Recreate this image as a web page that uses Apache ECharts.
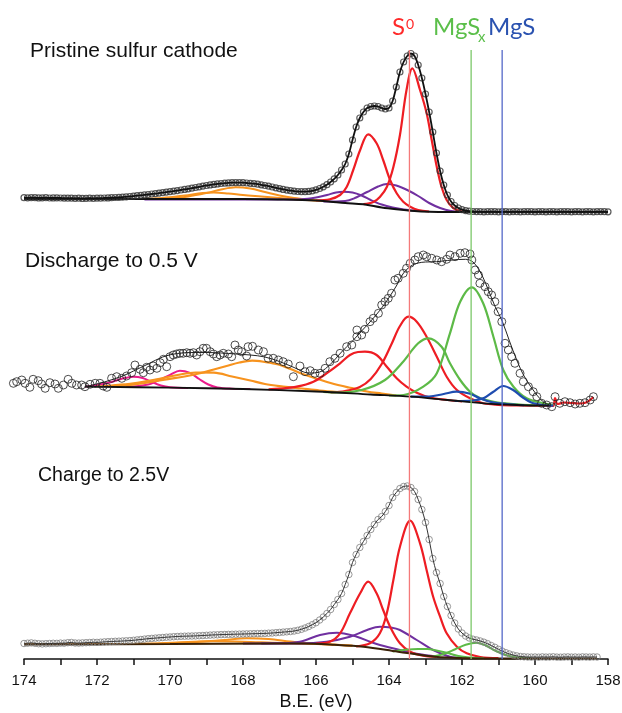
<!DOCTYPE html>
<html>
<head>
<meta charset="utf-8">
<title>S 2p spectra</title>
<script src="https://cdn.jsdelivr.net/npm/echarts@6/dist/echarts.min.js"></script>
<style>
  html, body { margin: 0; padding: 0; background: #fff; }
  #chart { width: 622px; height: 713px; }
</style>
</head>
<body>
<div id="chart"></div>
<script>
  // ---- data (binding energy in eV, intensity in arbitrary units) ----

  // measured points, pristine cathode: 174.0 eV downwards, every 0.1 eV
  const pristineCounts = [
    14.3, 14.2, 14.4, 14.3, 14.1, 14.2, 14.3, 14.0, 14.1, 14.2,
    14.0, 13.9, 13.8, 13.9, 13.7, 13.8, 13.6, 13.7, 13.8, 13.7,
    13.9, 13.8, 14.0, 14.1,
    14.3, 14.5, 14.7, 14.9, 15.2, 15.5, 15.9, 16.3, 16.7, 17.1,
    17.5, 18.0, 18.4, 18.9, 19.4, 19.9, 20.4, 20.9, 21.4, 22.0,
    22.6, 23.2, 23.8, 24.5, 25.2, 25.9, 26.5, 27.1, 27.6, 28.1,
    28.5, 28.8, 29.1, 29.3, 29.4, 29.4, 29.3, 29.0, 28.7, 28.3,
    27.8, 27.2, 26.5, 25.8, 25.0, 24.2, 23.4, 22.6, 21.9, 21.3,
    20.8, 20.5, 20.3, 20.3, 20.6, 21.2, 22.2, 23.5, 25.2, 27.3,
    30.0, 33.2, 37.0, 42, 48, 58, 72, 85, 94, 100,
    104, 105.5, 106, 105.5, 104, 103, 104, 111, 125, 140,
    150, 156, 158.5, 156, 147, 134, 118, 100, 80, 59,
    41, 27, 17, 10.5, 6.5, 4, 2.3, 1.4, 0.8, 0.5,
    0.4, 0.3, 0.2, 0.3, 0.4, 0.3, 0.2, 0.3, 0.3, 0.2,
    0.4, 0.3, 0.2, 0.3, 0.4, 0.3, 0.2, 0.3, 0.3, 0.2,
    0.4, 0.3, 0.2, 0.3, 0.4, 0.3, 0.2, 0.3, 0.3, 0.2,
    0.4, 0.3, 0.2, 0.3, 0.4, 0.3, 0.2
  ];
  const pristineBackground = [[174, 13], [168, 13], [167, 12.5], [166, 11.5], [165.6, 10.3], [165.2, 9], [164.7, 7.7], [164.2, 4.5], [163.8, 2.7], [163.3, 1], [162.9, 0.3], [162.4, 0], [158, 0]];
  const pristineOrangeA = [[170.8, 13], [170.0, 13.5], [169.5, 15.5], [169.0, 19], [168.6, 22.5], [168.2, 24.7], [167.8, 23.5], [167.4, 20], [167.0, 16.5], [166.6, 14], [166.2, 12.3], [165.8, 11]];
  const pristineOrangeB = [[170.8, 13], [170.2, 14], [169.6, 16.5], [169.1, 19], [168.8, 19.5], [168.4, 18.5], [168.0, 17], [167.5, 15.5], [167.0, 14], [166.5, 12.5], [166.0, 11.5]];
  const pristinePurple1 = [[170.7, 12.6], [167.0, 12.5], [166.4, 12.8], [166.0, 14.5], [165.7, 17], [165.45, 19.5], [165.25, 20.3], [165.0, 19.5], [164.75, 16.5], [164.5, 12], [164.2, 7.5], [163.9, 4.5], [163.6, 2.5], [163.2, 1]];
  const pristinePurple2 = [[165.8, 10.5], [165.2, 11], [164.9, 14.5], [164.6, 20], [164.3, 25.5], [164.06, 28], [163.8, 26.5], [163.5, 22], [163.2, 16], [162.9, 9], [162.6, 4], [162.3, 1], [162, 0]];
  const pristineRed1 = [[166.0, 11.5], [165.62, 12.7], [165.34, 17], [165.16, 25], [164.98, 42], [164.79, 62], [164.57, 77.7], [164.34, 68.7], [164.16, 52], [163.97, 32], [163.79, 18.7], [163.61, 10.3], [163.42, 5.3], [163.2, 2], [162.9, 0.5]];
  const pristineRed2 = [[164.7, 7.8], [164.43, 10], [164.25, 15], [164.06, 25], [163.88, 45], [163.7, 77], [163.52, 122], [163.36, 143.7], [163.15, 122], [162.97, 99], [162.83, 72], [162.69, 45], [162.56, 25], [162.42, 12], [162.24, 4], [162, 0.5], [161.7, 0]];

  // measured points after discharge to 0.5 V, [eV, intensity]
  const dischargePoints = [
    [174.29, 22.7], [174.2, 24.3], [174.06, 26], [173.97, 22.7], [173.84, 18.7], [173.75, 26.7], [173.61, 25.3], [173.52, 22],
    [173.42, 17.7], [173.29, 23.3], [173.15, 22], [173.06, 17.7], [172.92, 21], [172.79, 26.7], [172.69, 22.7], [172.56, 21],
    [172.42, 21], [172.33, 19.3], [172.19, 21.7], [172.05, 22.7], [171.92, 22.7], [171.83, 20], [171.73, 18.7], [171.6, 27.7],
    [171.46, 29.3], [171.32, 27.7], [171.19, 30], [171.05, 33.3], [170.96, 41], [170.82, 36.7], [170.73, 33.3], [170.64, 38.7],
    [170.55, 36], [170.46, 40], [170.36, 37.7], [170.27, 43.3], [170.18, 46.7], [170.09, 39.3], [170.0, 49.3], [169.91, 51],
    [169.82, 52], [169.73, 52.7], [169.64, 52.7], [169.54, 53.3], [169.45, 52.7], [169.36, 53.3], [169.27, 51], [169.18, 54.3],
    [169.09, 57.7], [169.0, 57.7], [168.9, 54.3], [168.81, 52], [168.72, 49.3], [168.63, 51], [168.54, 52.7], [168.4, 52],
    [168.31, 49.3], [168.22, 61], [168.13, 56], [168.04, 54.3], [167.9, 50], [167.86, 59.3], [167.74, 59.7], [167.58, 56],
    [167.44, 54.3], [167.31, 47.7], [167.17, 47.7], [167.03, 46], [166.9, 44.3], [166.76, 42], [166.62, 29.3], [166.44, 40],
    [166.3, 34.3], [166.16, 35.3], [166.03, 32.7], [165.89, 32.7], [165.75, 37.7], [165.62, 44.3], [165.48, 47.7], [165.34, 52.7],
    [165.16, 59.3], [165.02, 61], [164.88, 69.3], [164.88, 76], [164.75, 71], [164.66, 76.7], [164.52, 84.3], [164.43, 87.7],
    [164.29, 92.7], [164.2, 101], [164.11, 104.3], [164.02, 107.7], [163.93, 112.7], [163.84, 126], [163.75, 127.7], [163.61, 132.7],
    [163.52, 137.7], [163.42, 142.7], [163.29, 146], [163.2, 149.3], [163.06, 151], [162.97, 149.3], [162.83, 147.7], [162.69, 146],
    [162.56, 144.3], [162.42, 146.7], [162.33, 151], [162.19, 149.3], [162.05, 152.7], [161.92, 153.3], [161.78, 152], [161.73, 146],
    [161.64, 136], [161.55, 131], [161.51, 122.7], [161.37, 119.3], [161.28, 114.3], [161.19, 111], [161.1, 104.3], [161.01, 94.3],
    [160.91, 84.3], [160.82, 62.7], [160.73, 56], [160.64, 49.3], [160.55, 42.7], [160.41, 32.7], [160.32, 24.3], [160.18, 19.3],
    [160.05, 14.3], [159.95, 9.3], [159.82, 2.7], [159.68, 1], [159.54, -0.7], [159.45, 9.3], [159.32, 2.7], [159.18, 4.3],
    [159.04, 3.3], [158.9, 2], [158.77, 2.7], [158.63, 3.3], [158.49, 6], [158.4, 9.3]
  ];
  const dischargeFit = [[172.33, 19.3], [171.8, 24], [171.3, 30], [171.0, 35], [170.6, 42], [170.2, 49], [169.8, 52.5], [169.4, 53.5], [169.0, 53.5], [168.6, 53], [168.2, 52], [167.8, 51], [167.4, 49], [167.0, 44.5], [166.6, 38.5], [166.2, 33], [165.9, 34], [165.6, 42], [165.3, 54], [165.0, 65], [164.7, 77], [164.4, 89], [164.1, 103], [163.8, 120], [163.6, 133], [163.4, 140], [163.2, 143], [163.0, 144], [162.7, 144.3], [162.4, 145.5], [162.1, 146.5], [161.9, 146.7], [161.7, 144], [161.5, 134], [161.3, 118], [161.1, 100], [160.9, 85], [160.7, 65], [160.5, 46], [160.3, 30], [160.05, 16], [159.8, 5], [159.6, 1]];
  const dischargeBackground = [[172.33, 19.3], [170, 18.3], [168, 17], [166, 14.5], [164.5, 11.5], [163.4, 9.3], [162.4, 6], [161.4, 2.7], [160.5, 1], [159.6, 0.3]];
  const dischargePink1 = [[172.33, 19.3], [172.0, 21], [171.6, 24], [171.3, 27.5], [171.0, 29.3], [170.75, 28], [170.5, 24], [170.25, 20.5], [170.0, 18.8], [169.5, 18]];
  const dischargePink2 = [[171.2, 19], [170.6, 21.5], [170.3, 26], [170.0, 31], [169.73, 35.3], [169.45, 33], [169.2, 27], [168.95, 21.5], [168.7, 18.5], [168.3, 17.3], [167.8, 17]];
  const dischargeOrangeA = [[171.6, 19.5], [171.2, 20.5], [170.6, 23.5], [170.1, 26.7], [169.6, 29.5], [169.18, 32.7], [168.8, 36.5], [168.45, 40], [168.1, 43.5], [167.75, 45.3], [167.4, 44], [167.03, 41.5], [166.7, 37], [166.4, 32.5], [166.0, 27.5], [165.6, 23], [165.1, 18.5], [164.6, 14.5], [164.2, 12.5], [163.8, 10.5]];
  const dischargeOrangeB = [[172.0, 19.5], [171.6, 20.5], [171.0, 22.7], [170.4, 26.5], [169.8, 31], [169.3, 33.5], [168.8, 33.3], [168.3, 29.5], [167.8, 25.5], [167.4, 22], [166.9, 19.5], [166.4, 17.5], [165.9, 15.5], [165.4, 14]];
  const dischargeRed1 = [[167.3, 16.6], [167.0, 17.3], [166.53, 19.3], [166.07, 24.3], [165.71, 32.7], [165.34, 42.7], [165.07, 51], [164.85, 54], [164.66, 54.3], [164.34, 51], [164.06, 39.3], [163.79, 27.7], [163.52, 19.3], [163.24, 13.3], [162.88, 8.5], [162.4, 6], [162, 4.5]];
  const dischargeRed2 = [[165.6, 13.5], [165.2, 15], [164.8, 19], [164.5, 27], [164.2, 42], [163.93, 62], [163.7, 80], [163.47, 89.3], [163.24, 84.3], [162.97, 69.3], [162.69, 49.3], [162.42, 29.3], [162.14, 16], [161.78, 7.7], [161.42, 2.7], [161, 1.2], [160.5, 0.6], [159.6, 0.3], [159.5, 0], [159.45, 8], [159.38, 2], [159.2, 3.5], [159.0, 3], [158.8, 2.5], [158.6, 3.5], [158.4, 9]];
  const dischargeGreen1 = [[165.8, 14], [165.4, 13.5], [164.75, 16], [164.11, 26], [163.65, 42.7], [163.2, 62.7], [162.92, 67.7], [162.56, 59.3], [162.33, 42.7], [162.05, 26], [161.78, 14.3], [161.51, 8], [161.1, 4], [160.6, 2], [160, 0.7]];
  const dischargeGreen2 = [[164.0, 10.5], [163.6, 11], [163.06, 19.3], [162.69, 32.7], [162.33, 72.7], [162.05, 104.3], [161.73, 118.7], [161.42, 102.7], [161.14, 69.3], [160.87, 36], [160.59, 19.3], [160.23, 7.7], [159.77, 2.7], [159.5, 1]];
  const dischargeBlue1 = [[163.4, 9.3], [162.9, 9.5], [162.5, 12], [162.15, 14.3], [161.8, 12.5], [161.5, 7.5], [161.2, 4], [160.8, 2], [160.3, 0.8]];
  const dischargeBlue2 = [[162.2, 5], [161.7, 5.5], [161.4, 8], [161.15, 14], [160.87, 20], [160.6, 16], [160.35, 9], [160.1, 3.5], [159.8, 1], [159.5, 0.3]];

  // measured points after charge to 2.5 V: 174.0 eV downwards, every 0.1 eV
  const chargeCounts = [
    15.0, 15.3, 15.6, 15.2, 14.8, 14.6, 14.8, 15.0, 15.2, 15.1,
    15.4, 15.3, 15.8, 16.0, 15.5, 15.4, 15.6, 15.8, 16.0, 16.2,
    16.1, 16.3, 16.6, 16.8, 17.0, 17.2, 17.3, 17.5, 17.7, 17.9,
    18.2, 18.6, 19.0, 19.4, 19.8, 20.1, 20.4, 20.7, 21.0, 21.3,
    21.5, 21.8, 22.0, 22.2, 22.3, 22.4, 22.5, 22.6, 22.8, 23.0,
    23.2, 23.4, 23.6, 23.7, 23.9, 24.0, 24.1, 24.2, 24.3, 24.4,
    24.5, 24.6, 24.7, 24.8, 24.9, 25.0, 25.1, 25.3, 25.5, 25.8,
    26.1, 26.4, 26.7, 27.0, 27.5, 28.2, 29.2, 30.5, 32.0, 33.8,
    35.8, 38.5, 41.5, 45, 49, 54, 59, 65, 74, 84,
    96, 104, 111, 117, 123, 129, 134, 139, 142, 147,
    153, 161, 166, 170, 172, 172.5, 171, 167, 159, 149,
    136, 119, 100, 86, 75, 62, 52, 43, 35.5, 29.5,
    25.5, 22.5, 20.5, 19.3, 18.5, 17.5, 16.3, 14.8, 13, 11.2,
    9.2, 7.4, 5.8, 4.5, 3.4, 2.6, 2.0, 1.7, 1.5, 1.4,
    1.5, 1.3, 1.6, 1.4, 1.5, 1.7, 1.4, 1.3, 1.5, 1.6,
    1.4, 1.5, 1.3, 1.6, 1.5, 1.4, 1.6, 1.5
  ];
  const chargeBackground = [[174, 14], [170, 14.5], [167, 15], [166.4, 15], [165.5, 13.8], [164.7, 11.8], [163.75, 6.8], [162.8, 2], [161.9, 0.3], [160.5, 0], [158.3, 0]];
  const chargeOrangeA = [[174, 14.5], [172, 14.5], [170.6, 14.6], [169.5, 16], [168.5, 18.5], [167.9, 20.2], [167.3, 19.5], [166.7, 17], [166.1, 15], [165.5, 13.8], [165, 12.8]];
  const chargeOrangeB = [[172, 14.4], [171.5, 14.5], [170.5, 15], [169.5, 16.5], [168.8, 17.2], [168, 16.8], [167.2, 15.8], [166.5, 15], [165.8, 14.3], [165, 12.8]];
  const chargePurple1 = [[168.0, 15], [167.0, 15.2], [166.44, 16.8], [165.89, 23.5], [165.43, 25.8], [164.88, 21.8], [164.5, 16.5], [164.25, 13.5], [163.7, 8.5], [163.2, 4.5], [162.7, 2]];
  const chargePurple2 = [[167.5, 15], [166.44, 15], [165.71, 16.8], [165.07, 21.8], [164.6, 28.5], [164.25, 31.8], [163.95, 31], [163.7, 28.5], [163.24, 18.5], [162.79, 8.5], [162.33, 1.8], [162, 0.5]];
  const chargeRed1 = [[166.0, 15], [165.62, 16.8], [165.34, 25.2], [165.07, 45.2], [164.79, 65.2], [164.57, 76.8], [164.34, 65.2], [164.16, 48.5], [163.97, 31.8], [163.7, 15.2], [163.42, 6.8], [163.1, 3], [162.7, 1.5]];
  const chargeRed2 = [[164.9, 12], [164.52, 15.2], [164.25, 25.2], [164.06, 45.2], [163.88, 78.5], [163.7, 111.8], [163.42, 137.8], [163.15, 115.2], [162.97, 88.5], [162.79, 61.8], [162.6, 41.8], [162.42, 25.2], [162.14, 11.8], [161.87, 5.2], [161.5, 1.5], [161, 0.3]];
  const chargeGreen1 = [[163.9, 7], [163.6, 8.5], [163.2, 9.5], [162.95, 9.5], [162.7, 8], [162.42, 5.8], [162.1, 2.5], [161.8, 1], [161.4, 0.3]];
  const chargeGreen2 = [[162.8, 2], [162.5, 4.5], [162.2, 9], [161.9, 13.8], [161.6, 15.8], [161.35, 13], [161.1, 8], [160.8, 3.5], [160.5, 1], [160.1, 0.3]];

  // vertical offset of each spectrum in the stack
  const pristineOffset = 447;
  const dischargeOffset = 253;
  const chargeOffset = 0.5;

  // reference binding energies
  const refEnergies = [163.44, 161.75, 160.9];
  const refTop = 609;

  const panelTitles = ["Pristine sulfur cathode", "Discharge to 0.5 V", "Charge to 2.5V"];

  // ---- chart ----
  const RED = "#ee1d23";
  const ORANGE = "#f7931e";
  const PURPLE = "#7030a0";
  const GREEN = "#5dba47";
  const BLUE = "#1f4db0";
  const PINK = "#ec1c8c";

  function evenGrid(values, start, step) {
    return values.map((v, i) => [+(start - i * step).toFixed(2), v]);
  }

  function shift(points, offset) {
    return points.map((p) => [p[0], p[1] + offset]);
  }

  function curve(points, offset, color, width, z) {
    return {
      type: "line",
      data: shift(points, offset),
      smooth: 0.35,
      showSymbol: false,
      silent: true,
      z: z || 2,
      lineStyle: { color: color, width: width },
    };
  }

  function dots(points, offset, size, border, borderWidth) {
    return {
      type: "scatter",
      data: shift(points, offset),
      symbol: "circle",
      symbolSize: size,
      silent: true,
      clip: false,
      z: 4,
      itemStyle: { color: "rgba(255,255,255,0)", borderColor: border, borderWidth: borderWidth },
    };
  }

  const pristine = evenGrid(pristineCounts, 174, 0.1);
  const charge = evenGrid(chargeCounts, 174, 0.1);

  const series = [
    // pristine
    curve(pristineOrangeA, pristineOffset, ORANGE, 2),
    curve(pristineOrangeB, pristineOffset, ORANGE, 2),
    curve(pristinePurple1, pristineOffset, PURPLE, 2),
    curve(pristinePurple2, pristineOffset, PURPLE, 2),
    curve(pristineRed1, pristineOffset, RED, 2.2),
    curve(pristineRed2, pristineOffset, RED, 2.2),
    curve(pristineBackground, pristineOffset, "#111", 2, 3),
    dots(pristine, pristineOffset, 6, "#333", 1.2),
    curve(pristine, pristineOffset, "#111", 1.8, 5),
    // discharge
    curve(dischargePink1, dischargeOffset, PINK, 2),
    curve(dischargePink2, dischargeOffset, PINK, 2),
    curve(dischargeOrangeA, dischargeOffset, ORANGE, 2.2),
    curve(dischargeOrangeB, dischargeOffset, ORANGE, 2.2),
    curve(dischargeBackground, dischargeOffset, "#111", 1.8, 3),
    curve(dischargeRed1, dischargeOffset, RED, 2.2),
    curve(dischargeRed2, dischargeOffset, RED, 2.2),
    curve(dischargeGreen1, dischargeOffset, GREEN, 2.2),
    curve(dischargeGreen2, dischargeOffset, GREEN, 2.2),
    curve(dischargeBlue1, dischargeOffset, BLUE, 2.2),
    curve(dischargeBlue2, dischargeOffset, BLUE, 2.2),
    curve(dischargeFit, dischargeOffset, "#222", 1, 5),
    dots(dischargePoints, dischargeOffset, 8, "#222", 1),
    // charge
    curve(chargeOrangeA, chargeOffset, ORANGE, 2),
    curve(chargeOrangeB, chargeOffset, ORANGE, 2),
    curve(chargeBackground, chargeOffset, "#3a2208", 2, 3),
    curve(chargePurple1, chargeOffset, PURPLE, 2),
    curve(chargePurple2, chargeOffset, PURPLE, 2),
    curve(chargeRed1, chargeOffset, RED, 2.2),
    curve(chargeRed2, chargeOffset, RED, 2.2),
    curve(chargeGreen1, chargeOffset, GREEN, 2),
    curve(chargeGreen2, chargeOffset, GREEN, 2),
    dots(charge, chargeOffset, 6.5, "#808080", 1),
    curve(charge, chargeOffset, "#333", 1, 5),
  ];

  const refColors = ["#f47a7a", "#7cc86a", "#5468c8"];
  refEnergies.forEach((be, i) => {
    series.push({
      type: "line",
      data: [[be, 0], [be, refTop]],
      showSymbol: false,
      silent: true,
      z: 6,
      lineStyle: { color: refColors[i], width: 1.3 },
    });
  });

  const labelFont = '"Liberation Sans", Arial, sans-serif';
  const tagFont = 'Lato, "Open Sans", sans-serif';

  const chart = echarts.init(document.getElementById("chart"), null, { renderer: "canvas" });
  chart.setOption({
    animation: false,
    backgroundColor: "#fff",
    grid: { left: 24, right: 14, top: 40, bottom: 54, outerBoundsMode: "none", containLabel: false },
    xAxis: {
      type: "value",
      inverse: true,
      min: 158,
      max: 174,
      interval: 1,
      name: "B.E. (eV)",
      nameLocation: "middle",
      nameGap: 34,
      nameTextStyle: { fontFamily: labelFont, fontSize: 18, color: "#111" },
      axisLine: { lineStyle: { color: "#111", width: 1.5 } },
      axisTick: { length: 6, lineStyle: { color: "#111", width: 1.5 } },
      axisLabel: {
        margin: 14,
        fontFamily: labelFont,
        fontSize: 15,
        color: "#111",
        formatter: (v) => (v % 2 === 0 ? String(v) : ""),
      },
      splitLine: { show: false },
    },
    yAxis: {
      type: "value",
      min: 0,
      max: 619,
      show: false,
    },
    graphic: [
      { type: "text", left: 30, top: 41, style: { text: panelTitles[0], font: "21px " + labelFont, fill: "#111" } },
      { type: "text", left: 25, top: 251, style: { text: panelTitles[1], font: "21px " + labelFont, fill: "#111" } },
      { type: "text", left: 38, top: 466, style: { text: panelTitles[2], font: "19.5px " + labelFont, fill: "#111" } },
      { type: "text", left: 392, top: 15, style: { text: "S", font: "24px " + tagFont, fill: "#ff2a2a" } },
      { type: "text", left: 406, top: 17, style: { text: "0", font: "14px " + tagFont, fill: "#ff2a2a" } },
      { type: "text", left: 433, top: 15, style: { text: "MgS", font: "24px " + tagFont, fill: "#5bbf4a" } },
      { type: "text", left: 478, top: 30, style: { text: "x", font: "15px " + tagFont, fill: "#5bbf4a" } },
      { type: "text", left: 488, top: 15, style: { text: "MgS", font: "24px " + tagFont, fill: "#2a52b0" } },
    ],
    series: series,
  });
</script>
</body>
</html>
